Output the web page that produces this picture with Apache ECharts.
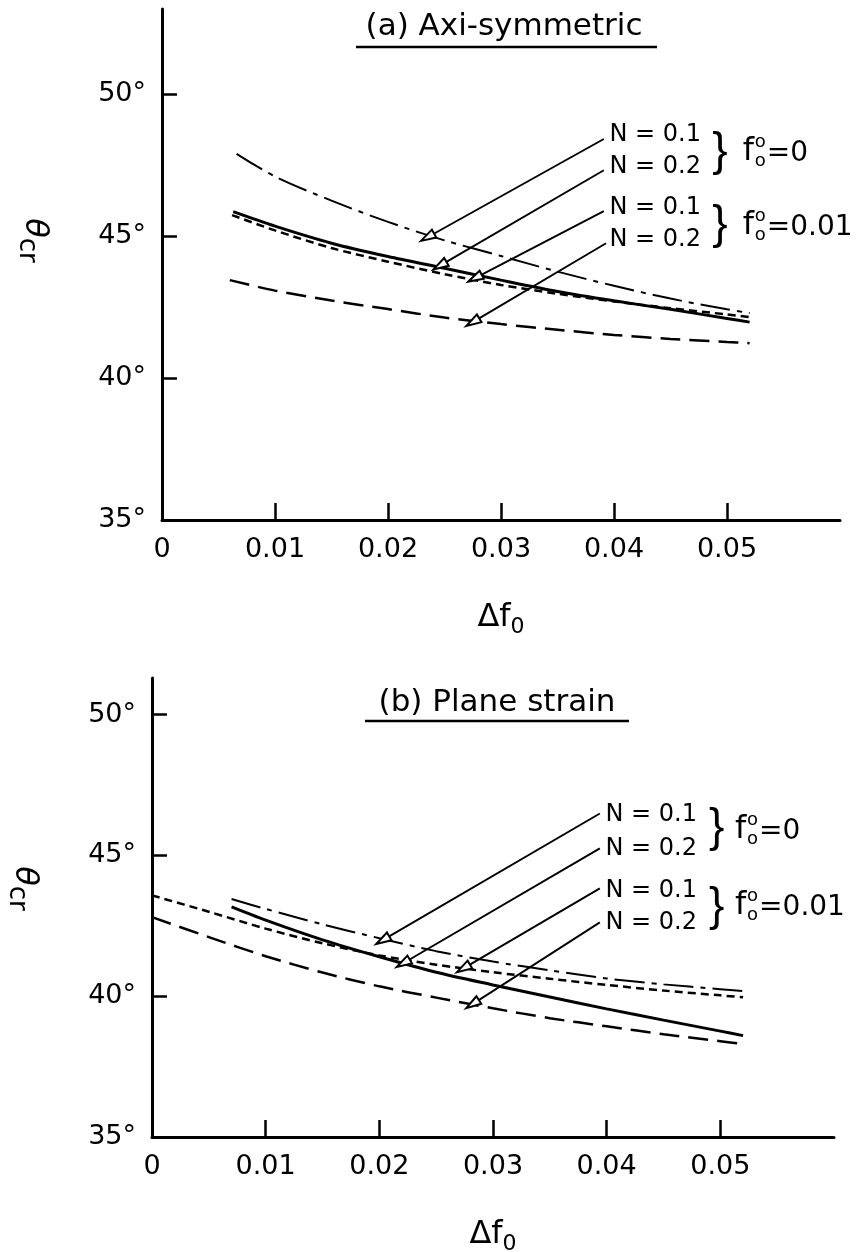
<!DOCTYPE html>
<html>
<head>
<meta charset="utf-8">
<script src="https://cdn.jsdelivr.net/npm/echarts@6/dist/echarts.min.js"></script>
<style>
  html, body { margin: 0; padding: 0; background: #fff; }
  #chart { width: 856px; height: 1252px; }
</style>
</head>
<body>
<div id="chart"></div>
<script>
const FONT = '"DejaVu Sans", "Liberation Sans", sans-serif';

// ---- (a) Axi-symmetric: delta f0 vs theta_cr (deg) ----
const axiDashDotX = [0.0066, 0.01, 0.015, 0.02, 0.025, 0.03, 0.035, 0.04, 0.045, 0.05, 0.052];
const axiDashDotY = [47.9, 47.1, 46.25, 45.5, 44.85, 44.3, 43.75, 43.25, 42.8, 42.42, 42.29];
const axiSolidX = [0.0063, 0.01, 0.015, 0.02, 0.025, 0.03, 0.035, 0.04, 0.045, 0.05, 0.052];
const axiSolidY = [45.86, 45.35, 44.75, 44.28, 43.87, 43.45, 43.05, 42.72, 42.42, 42.1, 41.97];
const axiShortDashX = [0.0062, 0.01, 0.015, 0.02, 0.025, 0.03, 0.035, 0.04, 0.045, 0.05, 0.052];
const axiShortDashY = [45.74, 45.2, 44.58, 44.1, 43.66, 43.28, 42.97, 42.7, 42.46, 42.24, 42.15];
const axiLongDashX = [0.006, 0.01, 0.015, 0.02, 0.025, 0.03, 0.035, 0.04, 0.045, 0.05, 0.052];
const axiLongDashY = [43.45, 43.08, 42.73, 42.43, 42.13, 41.9, 41.7, 41.52, 41.38, 41.27, 41.23];

// ---- (b) Plane strain ----
const psDashDotX = [0.007, 0.01, 0.015, 0.02, 0.025, 0.03, 0.035, 0.04, 0.045, 0.05, 0.052];
const psDashDotY = [43.45, 43.1, 42.55, 42.06, 41.6, 41.23, 40.92, 40.63, 40.42, 40.25, 40.18];
const psSolidX = [0.007, 0.01, 0.015, 0.02, 0.025, 0.03, 0.035, 0.04, 0.045, 0.05, 0.052];
const psSolidY = [43.17, 42.7, 42.0, 41.4, 40.85, 40.4, 39.97, 39.55, 39.15, 38.76, 38.6];
const psShortDashX = [0, 0.005, 0.01, 0.015, 0.02, 0.025, 0.03, 0.035, 0.04, 0.045, 0.05, 0.052];
const psShortDashY = [43.58, 43.0, 42.4, 41.88, 41.45, 41.12, 40.85, 40.62, 40.4, 40.2, 40.03, 39.96];
const psLongDashX = [0, 0.005, 0.01, 0.015, 0.02, 0.025, 0.03, 0.035, 0.04, 0.045, 0.05, 0.052];
const psLongDashY = [42.81, 42.1, 41.42, 40.84, 40.35, 39.95, 39.57, 39.22, 38.93, 38.65, 38.4, 38.3];

// axes
const yTickValues = [40, 45, 50];
const yLabelValues = [35, 40, 45, 50];
const xTickValues = [0.01, 0.02, 0.03, 0.04, 0.05];
const xLabelValues = [0, 0.01, 0.02, 0.03, 0.04, 0.05];

// annotations (data coords): arrow start -> arrow tip, label anchors
const curveLabels = ['N = 0.1', 'N = 0.2', 'N = 0.1', 'N = 0.2'];
const groupLabels = ['=0', '=0.01'];

const axiArrowFrom = [[0.0391, 48.42], [0.0391, 47.32], [0.0391, 45.88], [0.0393, 44.75]];
const axiArrowTo = [[0.0235, 44.96], [0.0246, 43.96], [0.0277, 43.52], [0.0275, 41.97]];
const axiLabelAt = [[0.0396, 48.56], [0.0396, 47.43], [0.0396, 45.99], [0.0396, 44.86]];
const axiBraceAt = [[0.0487, 47.96], [0.0487, 45.39]];
const axiGroupAt = [[0.0514, 47.98], [0.0514, 45.37]];

const psArrowFrom = [[0.0394, 46.49], [0.0394, 45.25], [0.0394, 43.83], [0.0394, 42.62]];
const psArrowTo = [[0.0203, 41.99], [0.0221, 41.17], [0.0274, 40.99], [0.0282, 39.72]];
const psLabelAt = [[0.0399, 46.45], [0.0399, 45.25], [0.0399, 43.76], [0.0399, 42.62]];
const psBraceAt = [[0.0490, 45.96], [0.0490, 43.16]];
const psGroupAt = [[0.0513, 45.92], [0.0513, 43.2]];

const solid = { color: '#000', width: 3, type: 'solid' };
const dashDot = { color: '#000', width: 2, type: [30, 7, 5, 7] };
const shortDash = { color: '#000', width: 2.5, type: [8, 5] };
const longDash = { color: '#000', width: 2.5, type: [20, 9] };

function curve(name, xs, ys, idx, style) {
  return {
    type: 'line',
    name,
    xAxisIndex: idx,
    yAxisIndex: idx,
    data: xs.map((x, i) => [x, ys[i]]),
    smooth: 0.3,
    showSymbol: false,
    symbol: 'none',
    lineStyle: style,
    z: 3,
  };
}

function arrows(idx, from, to) {
  return {
    type: 'line',
    xAxisIndex: idx,
    yAxisIndex: idx,
    data: [],
    markLine: {
      silent: true,
      animation: false,
      symbol: ['none', 'emptyTriangle'],
      symbolSize: [9, 15],
      lineStyle: { color: '#000', width: 1.9, type: 'solid' },
      label: { show: false },
      data: from.map((p, i) => [{ coord: p }, { coord: to[i] }]),
    },
  };
}

function notes(idx, labelAt, braceAt, groupAt) {
  const items = [];
  const txt = { color: '#000', fontFamily: FONT };
  labelAt.forEach((p, i) => {
    items.push({ value: p, name: curveLabels[i], label: { ...txt, fontSize: 24 } });
  });
  braceAt.forEach((p) => {
    items.push({ value: p, name: '}', label: { ...txt, fontSize: 46, fontFamily: '"Liberation Sans", sans-serif' } });
  });
  groupAt.forEach((p, i) => {
    items.push({ value: p, name: 'f', label: { ...txt, fontSize: 32 } });
    items.push({ value: p, name: 'o\no', label: { ...txt, fontSize: 18, lineHeight: 19, offset: [12, 0] } });
    items.push({ value: p, name: groupLabels[i], label: { ...txt, fontSize: 28, offset: [24, 2] } });
  });
  return {
    type: 'scatter',
    xAxisIndex: idx,
    yAxisIndex: idx,
    symbolSize: 0,
    itemStyle: { color: '#000', opacity: 0 },
    silent: true,
    label: {
      show: true,
      position: 'right',
      distance: 0,
      formatter: '{b}',
      color: '#000',
      opacity: 1,
      fontFamily: FONT,
    },
    data: items,
    z: 5,
  };
}

function xAxis(idx) {
  return {
    gridIndex: idx,
    type: 'value',
    min: 0,
    max: 0.06,
    axisLine: { show: true, onZero: false, lineStyle: { color: '#000', width: 3 } },
    axisTick: { show: true, inside: true, length: 17, customValues: xTickValues, lineStyle: { color: '#000', width: 2.5 } },
    axisLabel: {
      customValues: xLabelValues,
      formatter: (v) => (v === 0 ? '0' : v.toFixed(2)),
      fontSize: 27,
      color: '#000',
      fontFamily: FONT,
      margin: 16,
    },
    splitLine: { show: false },
    name: '{d|Δf}{s|0}',
    nameLocation: 'middle',
    nameGap: 78,
    nameTextStyle: {
      rich: {
        d: { fontSize: 32, fontFamily: FONT, color: '#000' },
        s: { fontSize: 22, fontFamily: FONT, color: '#000', padding: [18, 0, 0, 0] },
      },
    },
  };
}

function yAxis(idx, max, shift) {
  return {
    gridIndex: idx,
    type: 'value',
    min: 35,
    max: max,
    interval: 5,
    axisLine: { show: true, lineStyle: { color: '#000', width: 3 } },
    axisTick: { show: true, inside: true, length: 15, customValues: yTickValues, lineStyle: { color: '#000', width: 2.5 } },
    axisLabel: {
      customValues: yLabelValues,
      formatter: (v) => (v % 5 === 0 ? v + '°' : ''),
      fontSize: 27,
      color: '#000',
      fontFamily: FONT,
      margin: 16,
    },
    splitLine: { show: false },
    name: '{t|θ}{s|cr}',
    nameLocation: 'middle',
    nameRotate: -90,
    nameGap: 108,
    nameTextStyle: {
      padding: [0, shift * 2, 0, 0],
      rich: {
        t: { fontSize: 32, fontFamily: FONT, color: '#000', fontStyle: 'italic' },
        s: { fontSize: 26, fontFamily: FONT, color: '#000', padding: [14, 0, 0, 0] },
      },
    },
  };
}

const chart = echarts.init(document.getElementById('chart'), null, { renderer: 'canvas' });

chart.setOption({
  animation: false,
  backgroundColor: '#fff',
  grid: [
    { left: 162, top: 9, right: 16, bottom: 732, outerBoundsMode: 'none' },
    { left: 152, top: 678, right: 22, bottom: 115, outerBoundsMode: 'none' },
  ],
  xAxis: [xAxis(0), xAxis(1)],
  yAxis: [yAxis(0, 53, 24), yAxis(1, 51.3, 19)],
  graphic: [
    { type: 'text', x: 504, y: 27, style: { text: '(a) Axi-symmetric', fontSize: 31, fontFamily: FONT, fill: '#000', align: 'center', verticalAlign: 'middle' } },
    { type: 'line', shape: { x1: 356, y1: 47, x2: 657, y2: 47 }, style: { stroke: '#000', lineWidth: 2.5 } },
    { type: 'text', x: 497, y: 703, style: { text: '(b) Plane strain', fontSize: 31, fontFamily: FONT, fill: '#000', align: 'center', verticalAlign: 'middle' } },
    { type: 'line', shape: { x1: 365, y1: 721, x2: 629, y2: 721 }, style: { stroke: '#000', lineWidth: 2.5 } },
  ],
  series: [
    curve('N=0.1, f=0', axiDashDotX, axiDashDotY, 0, dashDot),
    curve('N=0.2, f=0', axiSolidX, axiSolidY, 0, solid),
    curve('N=0.1, f=0.01', axiShortDashX, axiShortDashY, 0, shortDash),
    curve('N=0.2, f=0.01', axiLongDashX, axiLongDashY, 0, longDash),
    arrows(0, axiArrowFrom, axiArrowTo),
    notes(0, axiLabelAt, axiBraceAt, axiGroupAt),

    curve('N=0.1, f=0', psDashDotX, psDashDotY, 1, dashDot),
    curve('N=0.2, f=0', psSolidX, psSolidY, 1, solid),
    curve('N=0.1, f=0.01', psShortDashX, psShortDashY, 1, shortDash),
    curve('N=0.2, f=0.01', psLongDashX, psLongDashY, 1, longDash),
    arrows(1, psArrowFrom, psArrowTo),
    notes(1, psLabelAt, psBraceAt, psGroupAt),
  ],
});

window.addEventListener('resize', () => chart.resize());
</script>
</body>
</html>
